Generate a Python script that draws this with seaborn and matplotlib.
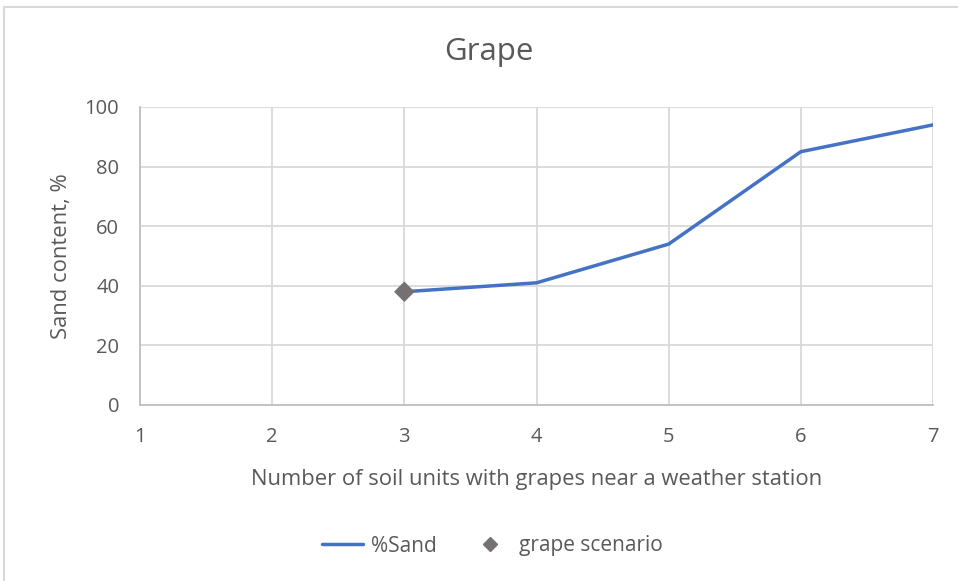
import matplotlib
matplotlib.use("Agg")
import matplotlib.pyplot as plt
import seaborn as sns
import pandas as pd
from matplotlib.patches import Rectangle
from matplotlib.lines import Line2D

units = [3, 4, 5, 6, 7]
sand = [38, 41, 54, 85, 94]
scenario_x = [3]
scenario_y = [38]

sns.set_style("white")
plt.rcParams["font.family"] = ["Open Sans", "DejaVu Sans"]

text_col = "#595959"
grid_col = "#D9D9D9"

fig = plt.figure(figsize=(9.58, 5.81), dpi=100)
ax = fig.add_axes([140/958, 1-405/581, (933-140)/958, (405-107)/581])

df = pd.DataFrame({"units": units, "sand": sand})
sns.lineplot(data=df, x="units", y="sand", ax=ax, color="#4472C4", linewidth=2.5, label="%Sand")
sns.scatterplot(x=scenario_x, y=scenario_y, ax=ax, color="#767171", marker="D", s=110,
                edgecolor="none", zorder=5, label="grape scenario")

ax.set_xlim(1, 7)
ax.set_ylim(0, 100)
ax.set_xticks(range(1, 8))
ax.set_yticks(range(0, 101, 20))
ax.grid(True, color=grid_col, linewidth=1.3)
ax.set_axisbelow(True)
for s in ["top", "right"]:
    ax.spines[s].set_visible(False)
for s in ["bottom", "left"]:
    ax.spines[s].set_color("#BFBFBF")
    ax.spines[s].set_linewidth(1.3)
ax.tick_params(axis="both", length=0, labelsize=14.5, labelcolor=text_col)
ax.tick_params(axis="x", pad=16)
ax.tick_params(axis="y", pad=15)

ax.set_xlabel("Number of soil units with grapes near a weather station", fontsize=15.8,
              color=text_col, labelpad=16)
ax.set_ylabel("Sand content, %", fontsize=15.8, color=text_col, labelpad=9)
fig.text(489/958, 1-52/581, "Grape", fontsize=22.5, color=text_col, ha="center", va="center")

ax.get_legend().remove()
handles = [Line2D([0], [0], color="#4472C4", linewidth=2.5),
           Line2D([0], [0], color="#767171", marker="D", linestyle="none", markersize=7)]
fig.legend(handles, ["%Sand", "grape scenario"], loc="center", bbox_to_anchor=(492/958, 1-546/581),
           ncol=2, frameon=False, fontsize=15, labelcolor=text_col, handlelength=2.0,
           handletextpad=0.35, columnspacing=1.6)

fig.patches.append(Rectangle((4/958, -0.05), 1.05, 1-7/581+0.05, transform=fig.transFigure,
                             fill=False, edgecolor="#D9D9D9", linewidth=1.5))

fig.savefig("out.png", dpi=100)
